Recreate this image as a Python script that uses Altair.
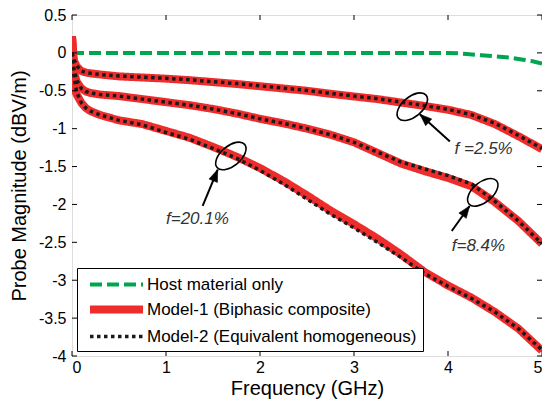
import altair as alt
import pandas as pd

# ---------------- data ----------------
freq = [0, 0.02, 0.05, 0.1, 0.15, 0.2, 0.3, 0.5, 0.75, 1.0, 1.25, 1.5, 1.75,
        2.0, 2.25, 2.5, 2.75, 3.0, 3.25, 3.5, 3.75, 4.0, 4.25, 4.5, 4.75, 5.0]

# Model-1 (Biphasic composite), red
m1_f25 = [0.22, -0.10, -0.18, -0.24, -0.26, -0.27, -0.285, -0.31, -0.325, -0.34, -0.36, -0.385, -0.41,
          -0.44, -0.47, -0.50, -0.54, -0.575, -0.61, -0.655, -0.70, -0.75, -0.82, -0.94, -1.10, -1.27]
m1_f84 = [0.22, -0.25, -0.38, -0.47, -0.51, -0.53, -0.55, -0.57, -0.61, -0.65, -0.69, -0.74, -0.80,
          -0.87, -0.93, -1.00, -1.08, -1.18, -1.32, -1.46, -1.56, -1.65, -1.76, -1.97, -2.22, -2.52]
m1_f201 = [0.22, -0.45, -0.55, -0.66, -0.73, -0.77, -0.82, -0.89, -0.94, -1.03, -1.12, -1.24, -1.37,
           -1.52, -1.69, -1.88, -2.08, -2.26, -2.45, -2.66, -2.89, -3.07, -3.23, -3.42, -3.64, -3.93]

# Model-2 (Equivalent homogeneous), black dotted
m2_f25 = [0.0, -0.08, -0.17, -0.24, -0.26, -0.27, -0.285, -0.305, -0.32, -0.335, -0.355, -0.38, -0.405,
          -0.435, -0.465, -0.495, -0.535, -0.57, -0.605, -0.65, -0.695, -0.745, -0.815, -0.93, -1.09, -1.26]
m2_f84 = [0.0, -0.20, -0.36, -0.47, -0.51, -0.53, -0.55, -0.57, -0.61, -0.65, -0.69, -0.74, -0.80,
          -0.87, -0.93, -1.00, -1.08, -1.18, -1.31, -1.44, -1.53, -1.62, -1.73, -1.96, -2.22, -2.52]
m2_f201 = [0.0, -0.30, -0.52, -0.66, -0.73, -0.77, -0.82, -0.89, -0.95, -1.05, -1.14, -1.26, -1.39,
           -1.55, -1.73, -1.93, -2.13, -2.31, -2.50, -2.70, -2.91, -3.08, -3.24, -3.42, -3.64, -3.92]

# Host material only, green dashed
freq_host = [0, 1, 2, 3, 4, 4.1, 4.2, 4.35, 4.5, 4.65, 4.8, 4.9, 5.0]
host = [0, 0, 0, 0, 0, -0.005, -0.015, -0.03, -0.045, -0.06, -0.09, -0.11, -0.14]

series_names = ["Host material only", "Model-1 (Biphasic composite)",
                "Model-2 (Equivalent homogeneous)"]
series_colors = ["#00a54f", "#ee2c2c", "#1a1a1a"]
series_dash = [[12, 5], [1, 0], [3.5, 3.5]]
series_width = [4, 8, 3.5]

curve_names = ["f=2.5%", "f=8.4%", "f=20.1%"]

# annotations
ell_freq = [3.62, 4.37, 1.69]
ell_val = [-0.71, -1.84, -1.36]
arrow_tail_freq = [4.02, 4.04, 1.39]
arrow_tail_val = [-1.17, -2.35, -2.02]
arrow_head_freq = [3.70, 4.23, 1.55]
arrow_head_val = [-0.81, -2.02, -1.54]
arrow_angle = [312, 36, 22]
label_text = ["f =2.5%", "f=8.4%", "f=20.1%"]
label_freq = [4.07, 4.04, 1.00]
label_val = [-1.34, -2.61, -2.255]

x_ticks = [0, 1, 2, 3, 4, 5]
y_ticks = [-4, -3.5, -3, -2.5, -2, -1.5, -1, -0.5, 0, 0.5]

# ---------------- build tables ----------------
W, H = 470, 341
FONT = "Liberation Sans"

rows_red, rows_blk = [], []
for cname, r, b in zip(curve_names, [m1_f25, m1_f84, m1_f201], [m2_f25, m2_f84, m2_f201]):
    for f, v in zip(freq, r):
        rows_red.append({"freq": f, "val": v, "series": series_names[1], "curve": cname})
    for f, v in zip(freq, b):
        rows_blk.append({"freq": f, "val": v, "series": series_names[2], "curve": cname})
df_red = pd.DataFrame(rows_red)
df_blk = pd.DataFrame(rows_blk)
df_host = pd.DataFrame({"freq": freq_host, "val": host, "series": series_names[0], "curve": "host"})

df_ell = pd.DataFrame({"freq": ell_freq, "val": ell_val})
df_arrow = pd.DataFrame({"freq": arrow_tail_freq, "val": arrow_tail_val,
                         "freq2": arrow_head_freq, "val2": arrow_head_val})
df_head = pd.DataFrame({"freq": arrow_head_freq, "val": arrow_head_val, "ang": arrow_angle})
df_lab = pd.DataFrame({"freq": label_freq, "val": label_val, "txt": label_text})
df_xt = pd.DataFrame({"freq": x_ticks})
df_yt = pd.DataFrame({"val": y_ticks})

xs = alt.Scale(domain=[0, 5], nice=False, zero=False)
ys = alt.Scale(domain=[-4, 0.5], nice=False, zero=False)

xaxis = alt.Axis(title="Frequency (GHz)", values=x_ticks, grid=False, ticks=False, tickSize=0,
                 domain=False, labelFont=FONT, labelFontSize=16, labelColor="black",
                 labelPadding=3, titleFont=FONT, titleFontSize=20, titleFontWeight="normal",
                 titleColor="black", titleBaseline="alphabetic", titleY=38,
                 labelExpr="toString(datum.value)")
yaxis = alt.Axis(title="Probe Magnitude (dBV/m)", values=y_ticks, grid=False, ticks=False, tickSize=0,
                 domain=False, labelFont=FONT, labelFontSize=16, labelColor="black",
                 labelPadding=6, titleFont=FONT, titleFontSize=20, titleFontWeight="normal",
                 titleColor="black", titlePadding=9, labelExpr="toString(datum.value)")

def X(field="freq"):
    return alt.X(f"{field}:Q", scale=xs, axis=xaxis)

def Y(field="val"):
    return alt.Y(f"{field}:Q", scale=ys, axis=yaxis)

# wide, short legend line symbol (spans ~53 px while keeping rows compact)
legend_sym = "M -1 0 L 5.24 0"
legend = alt.Legend(orient="none", legendX=5, legendY=253, title=None, symbolType=legend_sym,
                    symbolSize=289, symbolOffset=3, labelFont=FONT, labelFontSize=17,
                    labelColor="black", fillColor="white", strokeColor="black", padding=6,
                    rowPadding=0, labelOffset=36, labelLimit=400, symbolFillColor="transparent")

color = alt.Color("series:N", scale=alt.Scale(domain=series_names, range=series_colors), legend=legend)
dash = alt.StrokeDash("series:N", scale=alt.Scale(domain=series_names, range=series_dash), legend=legend)
width = alt.StrokeWidth("series:N", scale=alt.Scale(type="ordinal", domain=series_names, range=series_width),
                        legend=legend)

host_line = alt.Chart(df_host).mark_line(clip=True).encode(
    x=X(), y=Y(), color=color, strokeDash=dash, strokeWidth=width, detail="curve:N")
red_lines = alt.Chart(df_red).mark_line(clip=True).encode(
    x=X(), y=Y(), color=color, strokeDash=dash, strokeWidth=width, detail="curve:N")
blk_lines = alt.Chart(df_blk).mark_line(clip=True).encode(
    x=X(), y=Y(), color=color, strokeDash=dash, strokeWidth=width, detail="curve:N")

ell_path = "M -1 0 A 1 0.55 0 1 1 1 0 A 1 0.55 0 1 1 -1 0 Z"
ellipses = alt.Chart(df_ell).mark_point(shape=ell_path, size=1296, angle=320, filled=False,
                                        stroke="black", strokeWidth=1.6, opacity=1).encode(x=X(), y=Y())
arrows = alt.Chart(df_arrow).mark_rule(stroke="black", strokeWidth=2).encode(
    x=X(), y=Y(), x2="freq2:Q", y2="val2:Q")
head_path = "M 0 0 L 0.38 1 L -0.38 1 Z"
heads = alt.Chart(df_head).mark_point(shape=head_path, size=576, filled=True, fill="black",
                                      stroke="black", strokeWidth=0.5, opacity=1).encode(
    x=X(), y=Y(), angle=alt.Angle("ang:Q", scale=None))
labels = alt.Chart(df_lab).mark_text(align="left", baseline="alphabetic", font=FONT, fontSize=17,
                                     fontStyle="italic", color="#333333").encode(
    x=X(), y=Y(), text="txt:N")

TL = 5
tick_top = alt.Chart(df_xt).mark_rule(color="black", strokeWidth=1).encode(
    x=X(), y=alt.value(0), y2=alt.value(TL))
tick_bot = alt.Chart(df_xt).mark_rule(color="black", strokeWidth=1).encode(
    x=X(), y=alt.value(H), y2=alt.value(H - TL))
tick_left = alt.Chart(df_yt).mark_rule(color="black", strokeWidth=1).encode(
    y=Y(), x=alt.value(0), x2=alt.value(TL))
tick_right = alt.Chart(df_yt).mark_rule(color="black", strokeWidth=1).encode(
    y=Y(), x=alt.value(W - TL), x2=alt.value(W))

chart = alt.layer(
    host_line, red_lines, blk_lines, ellipses, arrows, heads, labels,
    tick_top, tick_bot, tick_left, tick_right
).properties(
    width=W, height=H,
    autosize=alt.AutoSizeParams(type="none"),
    padding={"left": 64, "top": 7, "right": 0, "bottom": 44},
).configure_view(
    stroke="#222222", strokeWidth=1.2
).configure(background="white")

chart.save("out.html", embed_options={"renderer": "svg", "actions": False})
